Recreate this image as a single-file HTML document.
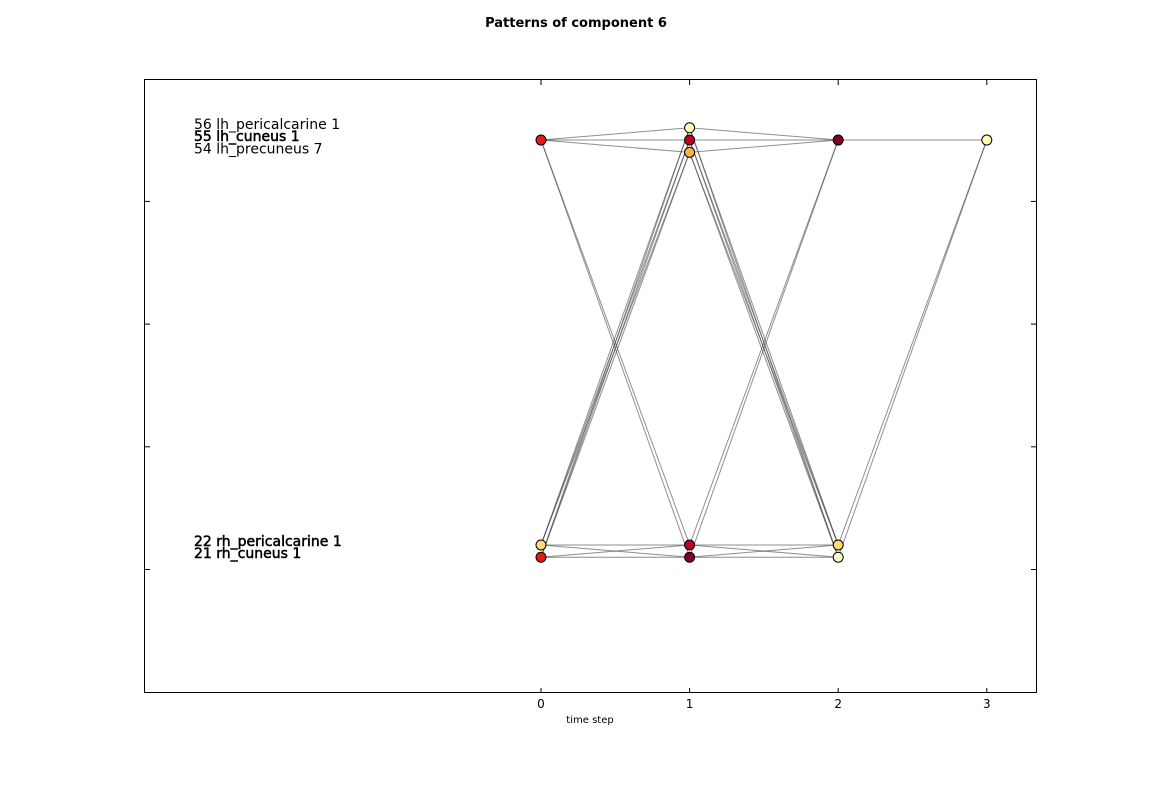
<!DOCTYPE html>
<html><head><meta charset="utf-8"><style>
body{margin:0;background:#fff;}
svg{display:block;font-family:"DejaVu Sans","Liberation Sans",sans-serif;}
</style></head><body>
<svg width="1152" height="792">
<text x="576" y="27" text-anchor="middle" font-size="13" font-weight="bold">Patterns of component 6</text>
<g id="edges"></g>
<g id="nodes"></g>
<rect x="144.5" y="79.5" width="892" height="613" fill="none" stroke="#000" stroke-width="1"/>
<g id="axes"></g>
<text x="590" y="723" text-anchor="middle" font-size="10">time step</text>
<g id="labels"></g>
</svg>
<script>
const xTicks=[0,1,2,3];
const yTicks=[20,30,40,50];
const nodes=[[0,55,'#e31a1c'],[0,22,'#fed976'],[0,21,'#e31a1c'],
[1,56,'#ffffb2'],[1,55,'#bd0026'],[1,54,'#feb24c'],[1,22,'#bd0026'],[1,21,'#800026'],
[2,55,'#800026'],[2,22,'#fed976'],[2,21,'#ffffcc'],[3,55,'#ffffb2']];
const edges=[[0,55,56],[0,55,55],[0,55,54],[1,56,55],[1,55,55],[1,54,55],[2,55,55],
[0,22,22],[0,22,21],[0,21,22],[0,21,21],[1,22,22],[1,22,21],[1,21,22],[1,21,21],
[0,55,22],[0,55,21],[0,22,56],[0,22,55],[0,22,54],[0,21,56],[0,21,55],[0,21,54],
[1,56,22],[1,55,22],[1,54,22],[1,56,21],[1,55,21],[1,54,21],[1,22,55],[1,21,55],[2,22,55],[2,21,55]];
const labels=[[56,'56 lh_pericalcarine 1',0],[55,'55 lh_cuneus 1',1],[54,'54 lh_precuneus 7',0],[22,'22 rh_pericalcarine 1',1],[21,'21 rh_cuneus 1',1]];
const NS='http://www.w3.org/2000/svg';
const X=v=>541+v*148.6;
const Y=v=>569.5-(v-20)*12.27;
function mk(t,a,p){const e=document.createElementNS(NS,t);for(const k in a)e.setAttribute(k,a[k]);p.appendChild(e);return e;}
const eg=document.getElementById('edges');
edges.forEach(([t,a,b])=>{const l=mk('line',{x1:X(t),y1:Y(a),x2:X(t+1),y2:Y(b),stroke:'#444','stroke-opacity':0.6,'stroke-width':1},eg);

});
const ng=document.getElementById('nodes');
nodes.forEach(([t,v,c])=>{const n=mk('circle',{cx:X(t),cy:Y(v),r:5,fill:c,stroke:'#000','stroke-width':1},ng);

});
const ag=document.getElementById('axes');
xTicks.forEach(v=>{mk('line',{x1:X(v),y1:693,x2:X(v),y2:688,stroke:'#000'},ag);mk('line',{x1:X(v),y1:80,x2:X(v),y2:85,stroke:'#000'},ag);
const t=mk('text',{x:X(v),y:708,'text-anchor':'middle','font-size':12},ag);t.textContent=v;

});
yTicks.forEach(v=>{mk('line',{x1:145,y1:Y(v),x2:150,y2:Y(v),stroke:'#000'},ag);mk('line',{x1:1036,y1:Y(v),x2:1031,y2:Y(v),stroke:'#000'},ag);});
const lg=document.getElementById('labels');
labels.forEach(([v,s,b])=>{const t=mk('text',{x:194,y:Y(v)+1,'font-size':14},lg);t.textContent=s;
if(b){t.setAttribute('stroke','#000');t.setAttribute('stroke-width','0.5');}

});
</script>
</body></html>
